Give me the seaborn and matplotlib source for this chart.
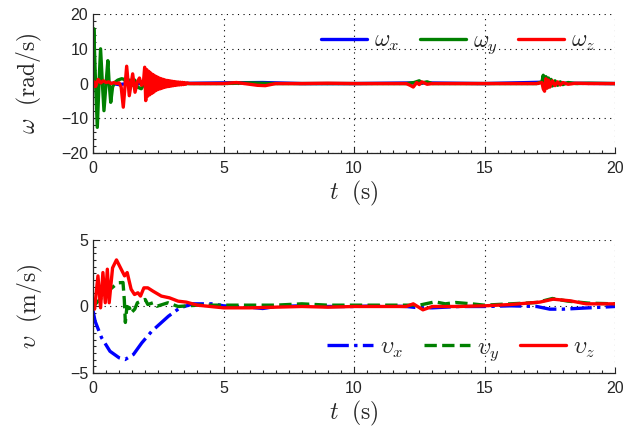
import numpy as np
import pandas as pd
import matplotlib
matplotlib.use("Agg")
import matplotlib.pyplot as plt
import seaborn as sns
from matplotlib.ticker import MultipleLocator

# ---------------- data ----------------
# angular rates omega (rad/s)
t_wx = [0, 0.5, 1, 1.5, 2, 3, 5, 6.5, 8, 10, 12.5, 15, 17.3, 18, 20]
wx = [0, 0.3, -0.3, 0.2, -0.2, 0, 0.2, 0.3, 0, 0, 0.2, 0, 0.4, 0.1, 0]

t_wy = [0, 0.03, 0.09, 0.165, 0.23, 0.29, 0.36, 0.42, 0.5, 0.57, 0.62, 0.68,
        0.75, 0.83, 0.95, 1.1, 1.2, 1.3, 1.4, 1.5, 1.6, 1.7, 1.85, 2.0, 2.2,
        2.5, 3.0, 4, 5, 6, 7, 8, 9, 10, 11, 12, 12.3, 12.5, 12.6, 12.8, 13.0,
        14, 15, 16, 17, 17.2, 17.25, 17.3, 17.35, 17.4, 17.45, 17.5, 17.55,
        17.6, 17.7, 17.8, 17.9, 18.0, 18.2, 18.5, 19, 20]
wy = [0, 15.8, 2, -12.6, 0, 10, 0, -7.8, 0, 6.6, 0, -5.4,
      -1, 0.3, 1.0, 1.4, 1.2, 0, 1.0, -0.5, 1.0, -1.0, -1.5, 0.5, -0.3,
      0.2, 0, 0, 0, 0.2, 0, 0, 0, 0, 0, 0, 0.3, 0.8, 0.2, 0.5, 0,
      0, 0, 0, 0, 0.5, 2.4, -1.5, 2.0, -1.2, 1.6, -0.9, 1.2,
      -0.7, 0.8, -0.5, 0.5, -0.3, 0.3, 0, 0.1, 0]

t_wz = [0, 0.05, 0.1, 0.2, 0.3, 0.4, 0.5, 0.6, 0.7, 0.8, 0.9, 1.0, 1.08,
        1.16, 1.29, 1.39, 1.52, 1.61, 1.70, 1.78, 1.86, 1.94, 1.98, 2.02,
        2.06, 2.10, 2.14, 2.18, 2.22, 2.26, 2.30, 2.34, 2.38, 2.42, 2.46,
        2.50, 2.54, 2.58, 2.62, 2.66, 2.70, 2.74, 2.78, 2.82, 2.86, 2.90,
        2.94, 2.98, 3.02, 3.06, 3.10, 3.14, 3.18, 3.22, 3.26, 3.30, 3.34,
        3.38, 3.42, 3.46, 3.50, 3.55, 3.6, 3.7,
        4, 5, 5.5, 6.3, 6.6, 7, 8, 9, 10, 11, 12, 12.15, 12.27, 12.4, 12.5,
        12.6, 12.8, 13, 14, 15, 16, 17, 17.2, 17.25, 17.3, 17.35, 17.4,
        17.45, 17.5, 17.6, 17.7, 17.8, 17.9, 18.0, 18.2, 18.5, 19, 20]
wz = [-1, 0.5, -0.8, 1.2, 0.2, 0.8, 0.3, 0.5, 0, 0.3, 0, 0.2, -1,
      -6.8, 5.0, -3.5, 2.8, -2.5, 0.5, 1.6, -0.5, 1.0, 4.7, -4.9,
      4.0, -3.6, 3.5, -3.2, 3.0, -2.8, 2.6, -2.4, 2.2, -2.0, 1.9,
      -1.7, 1.6, -1.5, 1.4, -1.3, 1.2, -1.1, 1.0, -0.95, 0.9, -0.85,
      0.8, -0.75, 0.7, -0.65, 0.6, -0.55, 0.5, -0.45, 0.45, -0.4, 0.4,
      -0.35, 0.35, -0.3, 0.3, -0.2, 0.2, 0,
      0, 0, 0.3, -0.5, -0.6, 0, 0, 0.1, 0, 0, 0, -0.5, -1.0, 0.3, -0.3,
      0.5, -0.2, 0, 0, 0, 0, 0, 0.3, -1.5, -2.2, 1.4, -1.3,
      1.0, -1.0, 0.8, -0.6, 0.5, -0.4, 0.3, -0.2, 0.1, 0, 0]

# linear velocities v (m/s)
t_vx = [0, 0.08, 0.33, 0.65, 1.0, 1.23, 1.55, 1.87, 2.25, 2.89, 3.33, 3.84,
        4.6, 5.0, 6, 6.5, 7, 8, 9, 10, 11, 12, 12.5, 13, 14, 15, 16, 17,
        17.5, 18, 18.5, 19, 20]
vx = [-0.3, -1.1, -2.35, -3.36, -3.85, -3.98, -3.6, -2.73, -1.86, -0.73,
      -0.1, 0.2, 0.2, 0.05, -0.05, -0.15, 0, 0.05, 0, 0, 0.05, 0, -0.1,
      -0.1, 0, 0, 0.05, 0, -0.2, -0.2, -0.15, -0.1, 0]

t_vy = [0, 0.3, 0.6, 0.96, 1.15, 1.2, 1.24, 1.3, 1.4, 1.45, 1.6, 1.7, 2.0,
        2.1, 2.3, 2.45, 2.87, 3.26, 4, 5, 6, 7, 8, 9, 10, 11, 12, 12.5,
        13.1, 13.5, 13.9, 14.5, 15, 16, 17, 17.6, 18.2, 19, 20]
vy = [0, 0.6, 1.2, 1.78, 1.8, 0.5, -1.2, 0, -0.1, -0.5, -0.2, 0.28, 0.53,
      0.15, 0.28, 0.02, 0.28, 0, 0.1, 0.1, 0.1, 0.1, 0.2, 0.1, 0.1, 0.1,
      0.1, 0.1, 0.35, 0.2, 0.3, 0.2, 0.1, 0.2, 0.3, 0.6, 0.4, 0.25, 0.2]

t_vz = [0, 0.06, 0.19, 0.29, 0.38, 0.47, 0.55, 0.62, 0.75, 0.9, 1.08, 1.21,
        1.31, 1.46, 1.59, 1.72, 1.82, 1.95, 2.1, 2.3, 2.62, 2.93, 3.26,
        3.57, 4, 4.5, 5, 6, 7, 8, 9, 10, 11, 12, 12.27, 12.64, 13, 14, 15,
        16, 17.12, 17.63, 18.27, 18.9, 20]
vz = [0.53, -0.2, 2.3, -0.1, 2.55, 0.28, 2.8, 0.28, 2.9, 3.5, 2.8, 2.3,
      2.55, 1.3, 0.9, 1.03, 0.78, 1.4, 1.4, 1.15, 0.78, 0.65, 0.4,
      0.33, 0.1, 0, -0.1, -0.1, -0.05, 0, -0.05, 0, 0, 0, 0.2, -0.25, 0,
      0, 0.05, 0.15, 0.33, 0.55, 0.43, 0.2, 0.2]

x_ticks = [0, 5, 10, 15, 20]
w_ticks = [-20, -10, 0, 10, 20]
v_ticks = [-5, 0, 5]

# ---------------- styling ----------------
sns.set_style("ticks")
plt.rcParams["font.family"] = ["Liberation Sans", "DejaVu Sans"]
plt.rcParams["mathtext.fontset"] = "cm"

BLUE, GREEN, RED = "#0000ff", "#008000", "#ff0000"
LW = 2.4

fig = plt.figure(figsize=(6.4, 4.41), dpi=100)
ax1 = fig.add_axes([0.1453, 0.653, 0.8157, 0.315])
ax2 = fig.add_axes([0.1453, 0.154, 0.8157, 0.302])

sns.lineplot(x=t_wx, y=wx, ax=ax1, color=BLUE, lw=LW, sort=False,
             estimator=None, label=r"$\omega_x$")
sns.lineplot(x=t_wy, y=wy, ax=ax1, color=GREEN, lw=LW, sort=False,
             estimator=None, label=r"$\omega_y$")
sns.lineplot(x=t_wz, y=wz, ax=ax1, color=RED, lw=LW, sort=False,
             estimator=None, label=r"$\omega_z$")

sns.lineplot(x=t_vx, y=vx, ax=ax2, color=BLUE, lw=LW, sort=False,
             estimator=None, linestyle="-.", label=r"$\upsilon_x$")
sns.lineplot(x=t_vy, y=vy, ax=ax2, color=GREEN, lw=LW, sort=False,
             estimator=None, linestyle="--", label=r"$\upsilon_y$")
sns.lineplot(x=t_vz, y=vz, ax=ax2, color=RED, lw=LW, sort=False,
             estimator=None, label=r"$\upsilon_z$")

for ax, yt, lim in [(ax1, w_ticks, (-20, 20)), (ax2, v_ticks, (-5, 5))]:
    ax.set_xlim(0, 20)
    ax.set_ylim(*lim)
    ax.set_xticks(x_ticks)
    ax.set_yticks(yt)
    ax.set_yticklabels([str(v).replace("-", "\u2212") for v in yt])
    ax.xaxis.set_minor_locator(MultipleLocator(0.5))
    ax.grid(True, which="major", color="black", linestyle=(0, (1, 4)), lw=0.8)
    ax.tick_params(which="both", direction="in", labelsize=11.5, width=0.8)
    ax.tick_params(which="major", length=4)
    ax.tick_params(which="minor", length=2)
    ax.tick_params(axis="x", pad=6)
    for s in ("top", "right"):
        ax.spines[s].set_visible(False)
    for s in ("left", "bottom"):
        ax.spines[s].set_linewidth(0.9)
    ax.set_xlabel(r"$t\ \ (\mathrm{s})$", fontsize=17, labelpad=2)

ax1.yaxis.set_minor_locator(MultipleLocator(2))
ax2.yaxis.set_minor_locator(MultipleLocator(0.5))
ax1.set_ylabel(r"$\omega\ \ (\mathrm{rad/s})$", fontsize=17, labelpad=12)
ax2.set_ylabel(r"$\upsilon\ \ (\mathrm{m/s})$", fontsize=17, labelpad=18)

leg_kw = dict(ncol=3, frameon=False, fontsize=17, handlelength=1.95,
              handletextpad=0.3, columnspacing=0.85, borderaxespad=0.1)
ax1.legend(loc="upper right", bbox_to_anchor=(0.985, 0.97), **leg_kw)
ax2.legend(loc="lower right", bbox_to_anchor=(0.985, -0.01), **leg_kw)

fig.savefig("out.png", dpi=100)
